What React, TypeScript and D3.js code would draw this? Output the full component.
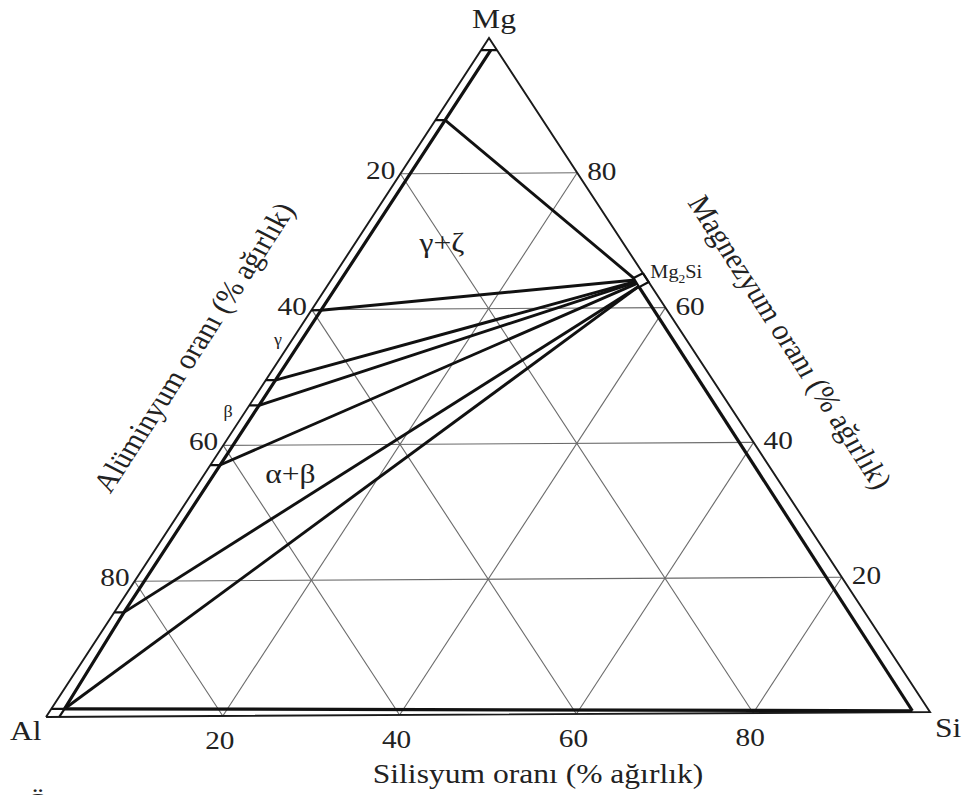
import React from "react";
import * as d3 from "d3";

// Al-Mg-Si ternary phase diagram (wt%)
// every composition below is [Al, Si, Mg] in wt%
type Comp = [number, number, number];

const gridTicks = [20, 40, 60, 80];
const cornerNames = ["Al", "Si", "Mg"];

// Mg2Si compound: its little box on the Mg-Si side
const mg2siBox: Comp[] = [
  [0, 34.9, 65.1],
  [0, 36.2, 63.8],
  [1.45, 35.5, 63.05],
  [1.4, 34.2, 64.4],
];

// tie lines: end on the Al-Mg side (top to bottom) and end at Mg2Si
const leftEnds: Comp[] = [
  [11.0, 1.1, 87.9],
  [39.0, 1.1, 59.9],
  [49.3, 1.1, 49.6],
  [53.0, 1.1, 45.9],
  [61.8, 1.1, 37.1],
  [83.5, 1.1, 15.4],
  [97.3, 1.5, 1.2],
];
const mg2siEnds: Comp[] = [
  [1.4, 34.2, 64.4],
  [1.4, 34.5, 64.1],
  [1.4, 34.7, 63.9],
  [1.4, 34.8, 63.8],
  [1.4, 35.0, 63.6],
  [1.45, 35.4, 63.15],
  [1.45, 35.4, 63.15],
];
const mgCorner: Comp = [0.7, 1.1, 98.2];
const siCorner: Comp = [1.9, 97.9, 0.2];

// phase field labels
const fields = [
  { label: "γ+ζ", at: [21.1, 10.5, 68.4] as Comp },
  { label: "α+β", at: [55.2, 10.4, 34.4] as Comp },
];

const W = 970;
const H = 795;
const A = { x: 46, y: 717 };
const S = { x: 930, y: 712 };
const M = { x: 489, y: 38 };
const K = 1.1275; // the figure is stretched sideways
const FONT = "'Liberation Serif', 'Times New Roman', serif";

const siX = d3.scaleLinear().domain([0, 100]).range([0, S.x - A.x]);
const siY = d3.scaleLinear().domain([0, 100]).range([0, S.y - A.y]);
const mgX = d3.scaleLinear().domain([0, 100]).range([0, M.x - A.x]);
const mgY = d3.scaleLinear().domain([0, 100]).range([0, M.y - A.y]);

function proj(c: Comp): [number, number] {
  const t = c[0] + c[1] + c[2];
  const si = (c[1] / t) * 100;
  const mg = (c[2] / t) * 100;
  return [A.x + siX(si) + mgX(mg), A.y + siY(si) + mgY(mg)];
}

const line = d3.line<Comp>().x((d) => proj(d)[0]).y((d) => proj(d)[1]);

function T({ x, y, rot = 0, anchor = "start", size = 28, fill = "#222", children }: any) {
  return (
    <text
      transform={`translate(${x},${y}) scale(${K},1)${rot ? ` rotate(${rot})` : ""}`}
      textAnchor={anchor}
      fontSize={size}
      fontFamily={FONT}
      fill={fill}
    >
      {children}
    </text>
  );
}

export default function App() {
  const grid: Comp[][] = [];
  gridTicks.forEach((t) => {
    grid.push([[100 - t, 0, t], [0, 100 - t, t]]);
    grid.push([[100 - t, t, 0], [0, t, 100 - t]]);
    grid.push([[t, 100 - t, 0], [t, 0, 100 - t]]);
  });

  const alCorner = leftEnds[leftEnds.length - 1];
  const ticks: Comp[][] = leftEnds.slice(0, -1).map((p) => [[p[0] + p[1], 0, p[2]], p]);
  ticks.push([[alCorner[0] + alCorner[1], 0, alCorner[2]], alCorner]);
  ticks.push([[alCorner[0] + alCorner[2], alCorner[1], 0], alCorner]);
  ticks.push([[mgCorner[0] + mgCorner[1], 0, mgCorner[2]], [0, mgCorner[0] + mgCorner[1], mgCorner[2]]]);

  const outer: Comp[] = [[100, 0, 0], [0, 100, 0], [0, 0, 100], [100, 0, 0]];
  const mg2siLbl = proj([0, 35.0, 65.0]);
  const gl = proj(fields[0].at);
  const ab = proj(fields[1].at);

  return (
    <svg width={W} height={H} style={{ position: "absolute", left: 0, top: 0, background: "#fff" }}>
      <rect width={W} height={H} fill="#fff" />
      {grid.map((g, i) => (
        <path key={"g" + i} d={line(g) || ""} stroke="#6a6a6a" strokeWidth={1.1} fill="none" />
      ))}
      <path d={line(outer) || ""} stroke="#1a1a1a" strokeWidth={1.9} fill="none" strokeLinejoin="miter" />

      {/* single-phase bands along the edges */}
      <path d={line([mgCorner, ...leftEnds]) || ""} stroke="#111" strokeWidth={3.2} fill="none" />
      <path d={line([alCorner, siCorner]) || ""} stroke="#111" strokeWidth={3.2} fill="none" />
      <path d={line([mg2siBox[2], siCorner]) || ""} stroke="#111" strokeWidth={3.2} fill="none" />
      <path d={line([...mg2siBox, mg2siBox[0]]) || ""} stroke="#111" strokeWidth={2.2} fill="none" />
      {ticks.map((t, i) => (
        <path key={"t" + i} d={line(t) || ""} stroke="#111" strokeWidth={2.2} fill="none" />
      ))}

      {/* tie lines to Mg2Si */}
      {leftEnds.map((p, i) => (
        <path key={"tie" + i} d={line([p, mg2siEnds[i]]) || ""} stroke="#111" strokeWidth={2.9} fill="none" />
      ))}

      {/* tick labels */}
      {gridTicks.map((t) => {
        const [x, y] = proj([t, 0, 100 - t]);
        return (
          <T key={"l" + t} x={x - 5} y={y + 5} anchor="end" size={26}>
            {t}
          </T>
        );
      })}
      {gridTicks.map((t) => {
        const [x, y] = proj([0, 100 - t, t]);
        return (
          <T key={"r" + t} x={x + 10} y={y + 7} size={26}>
            {t}
          </T>
        );
      })}
      {gridTicks.map((t) => {
        const [x, y] = proj([100 - t, t, 0]);
        return (
          <T key={"b" + t} x={x - 3} y={y + 33} anchor="middle" size={26}>
            {t}
          </T>
        );
      })}

      {/* corners */}
      <T x={proj([100, 0, 0])[0] - 36} y={proj([100, 0, 0])[1] + 23}>{cornerNames[0]}</T>
      <T x={proj([0, 100, 0])[0] + 5} y={proj([0, 100, 0])[1] + 25}>{cornerNames[1]}</T>
      <T x={proj([0, 0, 100])[0] + 5} y={proj([0, 0, 100])[1] - 10} anchor="middle">{cornerNames[2]}</T>

      {/* axis titles */}
      <T x={538} y={783} anchor="middle">Silisyum oranı (% ağırlık)</T>
      <T x={203} y={352} anchor="middle" rot={-60}>Alüminyum oranı (% ağırlık)</T>
      <T x={781} y={347} anchor="middle" rot={60}>Magnezyum oranı (% ağırlık)</T>

      {/* phase labels */}
      <T x={gl[0]} y={gl[1]} anchor="middle">{fields[0].label}</T>
      <T x={ab[0]} y={ab[1]} anchor="middle">{fields[1].label}</T>
      <T x={278} y={345} anchor="middle" size={16}>γ</T>
      <T x={228} y={417} anchor="middle" size={16}>β</T>
      <T x={mg2siLbl[0] + 7} y={mg2siLbl[1] + 4} size={18}>
        Mg<tspan fontSize={12} dy={5}>2</tspan>
        <tspan dy={-5}>Si</tspan>
      </T>

      {/* start of the caption below, cut off by the frame */}
      <T x={38} y={812} anchor="middle">Ö</T>
    </svg>
  );
}
